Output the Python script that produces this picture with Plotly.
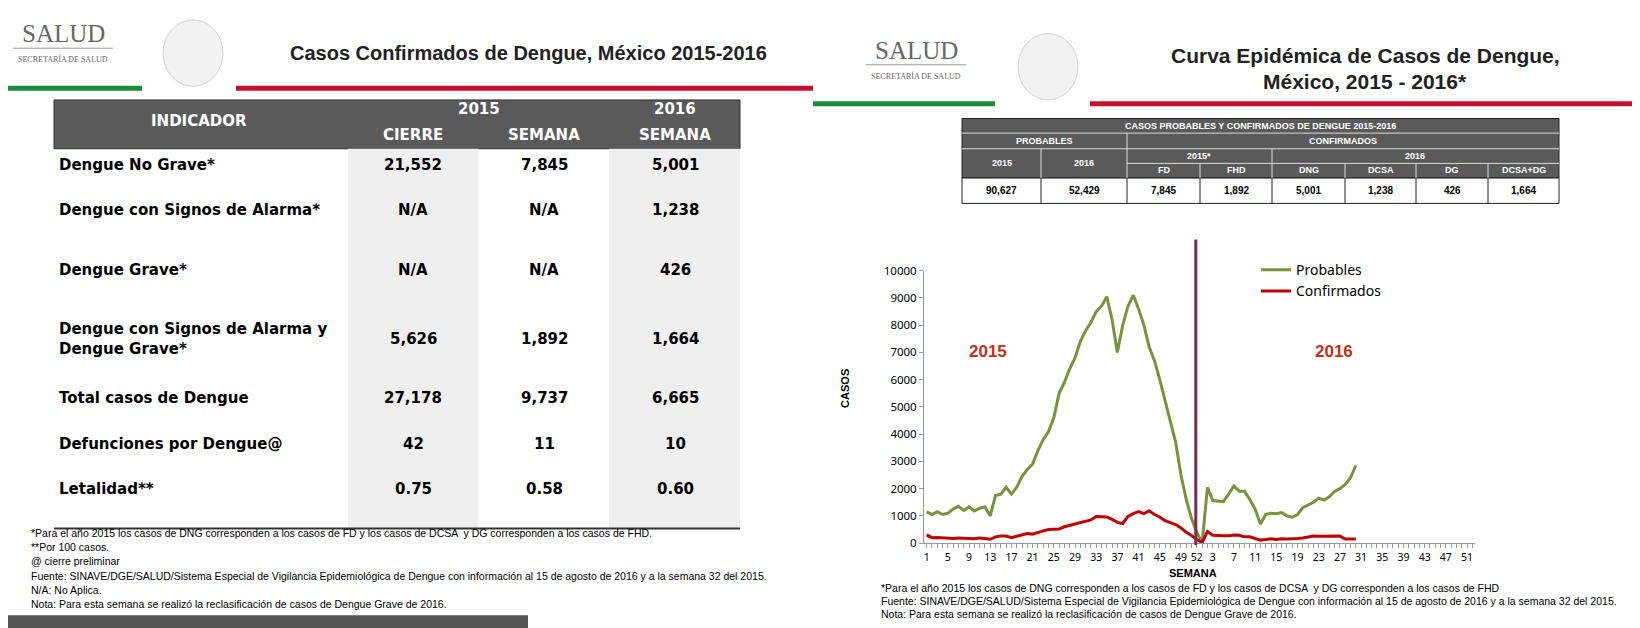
import plotly.graph_objects as go

# ---------- datos ----------
semanas_2015 = list(range(1, 53))
semanas_2016 = list(range(1, 31))

probables_2015 = [1150, 1050, 1150, 1050, 1100, 1250, 1350, 1200, 1330, 1180, 1280, 1330, 1000,
                  1750, 1800, 2050, 1800, 2050, 2450, 2700, 2900, 3400, 3800, 4100, 4600, 5500,
                  5900, 6400, 6800, 7400, 7800, 8100, 8500, 8700, 9050, 8200, 7000, 8000, 8700,
                  9100, 8600, 8000, 7200, 6700, 6000, 5200, 4400, 3700, 2500, 1600, 900, 400]
probables_2016 = [0, 2050, 1560, 1550, 1520, 1800, 2100, 1900, 1900, 1600, 1250, 700, 1050,
                  1100, 1080, 1120, 1000, 950, 1050, 1300, 1400, 1500, 1650, 1580, 1700, 1900,
                  2000, 2150, 2400, 2850]
confirmados_2015 = [300, 200, 210, 190, 180, 170, 190, 170, 170, 160, 190, 170, 140, 230, 260,
                    260, 200, 250, 300, 350, 330, 400, 450, 500, 500, 520, 600, 650, 700, 740,
                    780, 850, 980, 970, 960, 870, 760, 720, 980, 1080, 1160, 1080, 1190, 1050,
                    960, 820, 760, 680, 560, 400, 280, 130]
confirmados_2016 = [20, 430, 290, 270, 270, 270, 300, 290, 230, 230, 170, 110, 130, 160, 130,
                    160, 150, 150, 170, 190, 220, 260, 250, 250, 250, 250, 260, 150, 150, 150]

etiquetas_x = [str(w) for w in range(1, 50, 4)] + ["52"] + [str(w) for w in range(3, 52, 4)]
posiciones_x = list(range(0, 49, 4)) + [51] + [52 + w - 1 for w in range(3, 52, 4)]

indicadores = ["Dengue No Grave*", "Dengue con Signos de Alarma*", "Dengue Grave*",
               "Dengue con Signos de Alarma y<br>Dengue Grave*", "Total casos de Dengue",
               "Defunciones por Dengue@", "Letalidad**"]
cierre_2015 = ["21,552", "N/A", "N/A", "5,626", "27,178", "42", "0.75"]
semana_2015 = ["7,845", "N/A", "N/A", "1,892", "9,737", "11", "0.58"]
semana_2016 = ["5,001", "1,238", "426", "1,664", "6,665", "10", "0.60"]

tabla_cols = ["2015", "2016", "FD", "FHD", "DNG", "DCSA", "DG", "DCSA+DG"]
tabla_vals = ["90,627", "52,429", "7,845", "1,892", "5,001", "1,238", "426", "1,664"]

W, H = 1640, 628
GREEN, RED = "#77933c", "#c00000"
ARIAL = "Liberation Sans, Arial"
VERD = "DejaVu Sans, Verdana"

fig = go.Figure()
x15 = [w - 1 for w in semanas_2015]
x16 = [52 + w - 1 for w in semanas_2016]
fig.add_trace(go.Scatter(x=x15 + x16, y=probables_2015 + probables_2016,
                         mode="lines", name="Probables", line=dict(color=GREEN, width=3)))
fig.add_trace(go.Scatter(x=x15 + x16, y=confirmados_2015 + confirmados_2016,
                         mode="lines", name="Confirmados", line=dict(color=RED, width=3)))

shapes, ann = [], []


def px(x):
    return x / W


def py(y):
    return 1 - y / H


def text(x, y, t, size=12, color="black", bold=False, family=ARIAL, xanchor="center", **kw):
    if bold:
        t = "<b>" + t + "</b>"
    ann.append(dict(x=px(x), y=py(y), xref="paper", yref="paper", text=t, showarrow=False,
                    font=dict(size=size, color=color, family=family), xanchor=xanchor,
                    yanchor="middle", align="left", **kw))


def rect(x0, y0, x1, y1, fill, line=None, lw=0):
    shapes.append(dict(type="rect", xref="paper", yref="paper", x0=px(x0), x1=px(x1),
                       y0=py(y0), y1=py(y1), fillcolor=fill, layer="below",
                       line=dict(color=line or fill, width=lw)))


def hline(x0, x1, y, color, w):
    shapes.append(dict(type="line", xref="paper", yref="paper", x0=px(x0), x1=px(x1),
                       y0=py(y), y1=py(y), line=dict(color=color, width=w)))


def vline(x, y0, y1, color, w):
    shapes.append(dict(type="line", xref="paper", yref="paper", x0=px(x), x1=px(x),
                       y0=py(y0), y1=py(y1), line=dict(color=color, width=w)))


# ---------- encabezados ----------
for sx, sy in [(55, 18), (908, 35)]:
    text(sx, sy, "SALUD", 25, "#666666", family="Liberation Serif, serif")
    text(sx, sy + 26, "SECRETARÍA DE SALUD", 8, "#666666", family="Liberation Serif, serif")
    hline(sx - 50, sx + 50, sy + 15, "#999999", 1)
# escudo (aproximado)
for cx, cy in [(185, 38), (1040, 52)]:
    shapes.append(dict(type="circle", xref="paper", yref="paper", x0=px(cx - 30), x1=px(cx + 30),
                       y0=py(cy - 34), y1=py(cy + 34), fillcolor="#f2f2f2",
                       line=dict(color="#d0d0d0", width=1)))
text(520, 38, "Casos Confirmados de Dengue, México 2015-2016", 20, "#222222", True)
text(1357, 40, "Curva Epidémica de Casos de Dengue,", 21, "#222222", True)
text(1357, 67, "México, 2015 - 2016*", 21, "#222222", True)
hline(0, 134, 74, "#1e8b3c", 5)
hline(228, 805, 74, "#c8102e", 5)
hline(805, 987, 90, "#1e8b3c", 5)
hline(1082, 1640, 90, "#c8102e", 5)

# ---------- tabla izquierda ----------
rect(46, 86, 732, 136, "#5a5a5a", "#333333", 1)
rect(340, 136, 470, 525, "#efefef")
rect(601, 136, 732, 525, "#efefef")
hline(46, 732, 525, "#333333", 2)
text(191, 108, "INDICADOR", 15, "white", True, VERD)
text(471, 95, "2015", 15, "white", True, VERD)
text(667, 95, "2016", 15, "white", True, VERD)
for cx, t in [(405, "CIERRE"), (536, "SEMANA"), (667, "SEMANA")]:
    text(cx, 122, t, 15, "white", True, VERD)
rows_y = [153, 199, 260, 331, 391, 438, 485]
for i, ry in enumerate(rows_y):
    text(49, ry, indicadores[i], 15, "black", True, VERD, xanchor="left")
    for cx, col in [(405, cierre_2015), (536, semana_2015), (667, semana_2016)]:
        text(cx, ry, col[i], 15, "black", True, VERD)

notas_izq = ["*Para el año 2015 los casos de DNG corresponden a los casos de FD y los casos de DCSA  y DG corresponden a los casos de FHD.",
             "**Por 100 casos.", "@ cierre preliminar"]
for i, t in enumerate(notas_izq):
    text(21, 530 + 14 * i, t, 10.5, xanchor="left")
notas_izq2 = ["Fuente: SINAVE/DGE/SALUD/Sistema Especial de Vigilancia Epidemiológica de Dengue con información al 15 de agosto de 2016 y a la semana 32 del 2015.",
              "N/A: No Aplica.", "Nota: Para esta semana se realizó la reclasificación de casos de Dengue Grave de 2016."]
for i, t in enumerate(notas_izq2):
    text(21, 574 + 14 * i, t, 10.5, xanchor="left")
rect(0, 614, 520, 628, "#555555")

# ---------- tabla derecha ----------
cx_ = [954, 1033, 1119, 1192, 1264, 1337, 1408, 1480, 1551]
rect(954, 105, 1551, 166, "#5a5a5a", "#222222", 1)
rect(954, 166, 1551, 192, "white", "#222222", 1)
for yy in [120, 136]:
    hline(954, 1551, yy, "#dddddd", 1)
hline(1119, 1551, 151, "#dddddd", 1)
vline(1119, 120, 166, "#dddddd", 1)
vline(1033, 136, 166, "#dddddd", 1)
vline(1264, 136, 166, "#dddddd", 1)
for xx in [1192, 1337, 1408, 1480]:
    vline(xx, 151, 166, "#dddddd", 1)
for xx in cx_[1:-1]:
    vline(xx, 166, 192, "#222222", 1)
text(1252, 113, "CASOS PROBABLES Y CONFIRMADOS DE DENGUE 2015-2016", 9, "white", True)
text(1036, 128, "PROBABLES", 9, "white", True)
text(1335, 128, "CONFIRMADOS", 9, "white", True)
text(1191, 143, "2015*", 9, "white", True)
text(1407, 143, "2016", 9, "white", True)
for i, c in enumerate(tabla_cols):
    mx = (cx_[i] + cx_[i + 1]) / 2
    text(mx, 151 if i < 2 else 158, c, 9, "white", True)
    text(mx, 179, tabla_vals[i], 10, "black", True)

# ---------- gráfica ----------
shapes.append(dict(type="line", xref="x", yref="paper", x0=50.8, x1=50.8, y0=py(229), y1=py(542),
                   line=dict(color="#7b2c4f", width=3)))
text(980, 344, "2015", 17, "#c0301c", True)
text(1326, 344, "2016", 17, "#c0301c", True)
text(837, 382, "CASOS", 11, "black", True, textangle=-90)
text(1185, 571, "SEMANA", 11, "black", True)

notas_der = ["*Para el año 2015 los casos de DNG corresponden a los casos de FD y los casos de DCSA  y DG corresponden a los casos de FHD",
             "Fuente: SINAVE/DGE/SALUD/Sistema Especial de Vigilancia Epidemiológica de Dengue con información al 15 de agosto de 2016 y a la semana 32 del 2015.",
             "Nota: Para esta semana se realizó la reclasificación de casos de Dengue Grave de 2016."]
for i, t in enumerate(notas_der):
    text(871, 586 + 13.5 * i, t, 10.5, xanchor="left")

fig.update_layout(
    width=W, height=H, margin=dict(l=0, r=0, t=0, b=0),
    paper_bgcolor="white", plot_bgcolor="white",
    shapes=shapes, annotations=ann,
    font=dict(family=ARIAL, color="black"),
    legend=dict(x=px(1248), y=py(244), xanchor="left", yanchor="top", bgcolor="rgba(0,0,0,0)",
                font=dict(size=14, family="Noto Sans, sans-serif"), itemwidth=30, tracegroupgap=4),
    xaxis=dict(domain=[px(916), px(1467)], range=[-0.5, 103.5], tickmode="array",
               tickvals=posiciones_x, ticktext=etiquetas_x, tickangle=0,
               showline=True, linecolor="#999999", ticks="outside", ticklen=4, tickcolor="#999999",
               minor=dict(dtick=1, tick0=0, ticks="outside", ticklen=4, tickcolor="#999999"),
               showgrid=False, zeroline=False, tickfont=dict(size=10.5, family="Noto Sans, sans-serif")),
    yaxis=dict(domain=[py(540), py(261)], range=[0, 10000], dtick=1000, tickformat="d",
               showgrid=False, showline=True, linecolor="#999999", ticks="outside", ticklen=4,
               tickcolor="#999999", zeroline=False,
               tickfont=dict(size=11.5, family="Noto Sans, sans-serif")),
)

fig.write_html("out.html")
